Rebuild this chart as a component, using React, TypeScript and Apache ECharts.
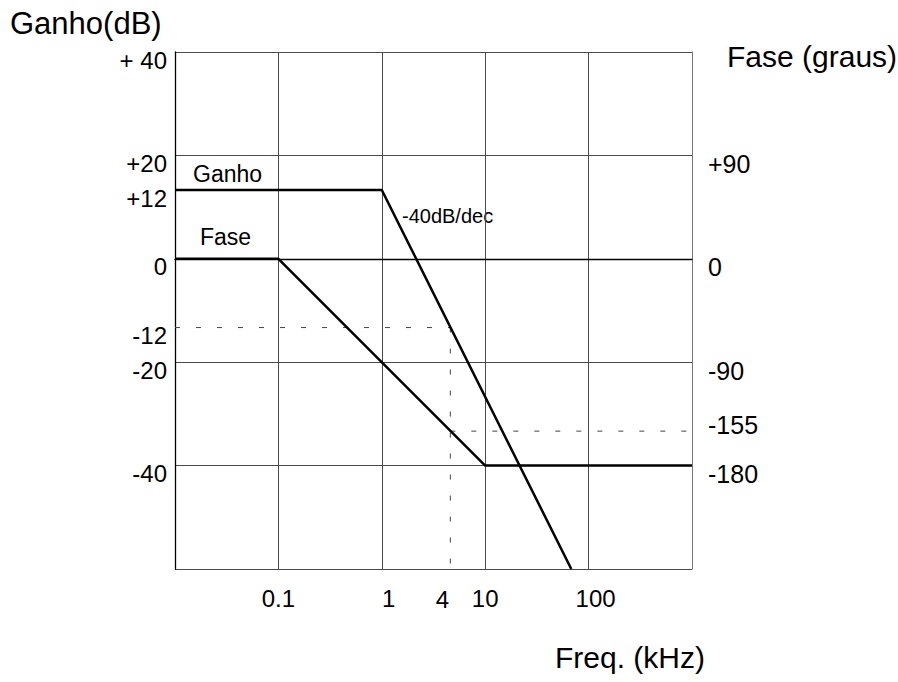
import { useEffect, useRef } from 'react';
import * as echarts from 'echarts';

// Frequency axis (kHz, log scale)
const freqTicks = [0.01, 0.1, 1, 10, 100, 1000];
const freqTickLabels = ['', '0.1', '1', '10', '100', ''];

// Gain axis (dB)
const gainTicks = [-60, -40, -20, 0, 20, 40];
const gainTickLabels = ['', '-40', '-20', '0', '+20', '+ 40'];

// Phase axis (degrees)
const phaseTicks = [-270, -180, -90, 0, 90, 180];
const phaseTickLabels = ['', '-180', '-90', '0', '+90', ''];

// Gain asymptote (as drawn)
const gainFreq = [0.01, 1, 68];
const gainDb = [13.3, 13.3, -60];

// Phase asymptote
const phaseFreq = [0.01, 0.1, 10, 1000];
const phaseDeg = [0, 0, -180, -180];

// Marker at f ≈ 4 kHz (as drawn)
const markerFreq = 4.6;
const markerGain = -13.3;
const markerPhase = -150;

// Extra tick labels
const gainExtraValues = [13.3, -13.3];
const gainExtraLabels = ['+12', '-12'];
const phaseExtraValues = [-150];
const phaseExtraLabels = ['-155'];
const freqExtraValues = [4.6];
const freqExtraLabels = ['4'];

const FONT = '"Liberation Sans", Arial, sans-serif';
const TICK_FS = 24;
const RIGHT_FS = 25;

function labelFor(values: number[], labels: string[], v: number) {
  for (let i = 0; i < values.length; i++) {
    if (Math.abs(values[i] - v) < 1e-6 * Math.max(1, Math.abs(v))) return labels[i];
  }
  return '';
}

export default function App() {
  const ref = useRef<HTMLDivElement>(null);
  useEffect(() => {
    if (!ref.current) return;
    const chart = echarts.init(ref.current, undefined, { renderer: 'svg' });
    const gridColor = '#4a4a4a';
    const dashed = { color: '#444', width: 1, type: [5, 16] as number[] };
    const curve = { color: '#000', width: 2.5 };
    const extraLabelBase = {
      show: true,
      fontFamily: FONT,
      color: '#000',
      opacity: 1,
      textBorderWidth: 0,
    };

    const option: any = {
      animation: false,
      backgroundColor: '#fff',
      textStyle: { fontFamily: FONT },
      grid: { left: 175, right: 206, top: 52, bottom: 113, containLabel: false },
      xAxis: {
        type: 'log',
        logBase: 10,
        min: 0.01,
        max: 1000,
        axisLine: { show: true, lineStyle: { color: '#000', width: 1.3 } },
        axisTick: { show: false },
        splitLine: { show: true, lineStyle: { color: gridColor, width: 1 } },
        axisLabel: {
          color: '#000',
          margin: 17,
          formatter: (v: number) => {
            const e = Math.round(Math.log10(v));
            const l = labelFor(freqTicks, freqTickLabels, Math.pow(10, e));
            if (!l) return '';
            if (l === '1' || l === '100') return '{r|' + l + '}';
            return '{n|' + l + '}';
          },
          rich: {
            n: { fontSize: TICK_FS, fontFamily: FONT, color: '#000' },
            r: { fontSize: TICK_FS, fontFamily: FONT, color: '#000', padding: [0, 0, 0, 14] },
          },
        },
      },
      yAxis: [
        {
          type: 'value',
          min: -60,
          max: 40,
          interval: 20,
          position: 'left',
          axisLine: { show: true, onZero: false, lineStyle: { color: '#000', width: 1.3 } },
          axisTick: { show: false },
          splitLine: { show: true, lineStyle: { color: gridColor, width: 1 } },
          axisLabel: {
            color: '#000',
            margin: 8,
            formatter: (v: number) => {
              const l = labelFor(gainTicks, gainTickLabels, v);
              return l ? '{a|' + l + '}' : '';
            },
            rich: { a: { fontSize: TICK_FS, fontFamily: FONT, color: '#000', padding: [16, 0, 0, 0] } },
          },
        },
        {
          type: 'value',
          min: -270,
          max: 180,
          interval: 90,
          position: 'right',
          axisLine: { show: true, onZero: false, lineStyle: { color: '#777', width: 1 } },
          axisTick: { show: false },
          splitLine: { show: false },
          axisLabel: {
            color: '#000',
            margin: 16,
            formatter: (v: number) => {
              const l = labelFor(phaseTicks, phaseTickLabels, v);
              return l ? '{a|' + l + '}' : '';
            },
            rich: { a: { fontSize: RIGHT_FS, fontFamily: FONT, color: '#000', padding: [17, 0, 0, 0] } },
          },
        },
      ],
      series: [
        {
          name: 'Ganho',
          type: 'line',
          yAxisIndex: 0,
          symbol: 'none',
          data: gainFreq.map((f, i) => [f, gainDb[i]]),
          lineStyle: curve,
          z: 5,
        },
        {
          name: 'Fase',
          type: 'line',
          yAxisIndex: 1,
          symbol: 'none',
          data: phaseFreq.map((f, i) => [f, phaseDeg[i]]),
          lineStyle: curve,
          z: 5,
        },
        {
          name: 'gain-marker-h',
          type: 'line',
          yAxisIndex: 0,
          symbol: 'none',
          data: [[freqTicks[0], markerGain], [markerFreq, markerGain]],
          lineStyle: dashed,
          z: 3,
        },
        {
          name: 'gain-marker-v',
          type: 'line',
          yAxisIndex: 0,
          symbol: 'none',
          data: [[markerFreq, markerGain], [markerFreq, gainTicks[0]]],
          lineStyle: dashed,
          z: 3,
        },
        {
          name: 'phase-marker-h',
          type: 'line',
          yAxisIndex: 1,
          symbol: 'none',
          data: [[markerFreq, markerPhase], [freqTicks[freqTicks.length - 1], markerPhase]],
          lineStyle: dashed,
          z: 3,
        },
        {
          name: 'gain-extra-labels',
          type: 'scatter',
          yAxisIndex: 0,
          symbolSize: 0,
          clip: false,
          silent: true,
          itemStyle: { opacity: 1 },
          data: gainExtraValues.map((v) => [freqTicks[0], v]),
          label: {
            ...extraLabelBase,
            position: 'left',
            distance: 8,
            offset: [0, 8],
            fontSize: TICK_FS,
            formatter: (p: any) => gainExtraLabels[p.dataIndex],
          },
        },
        {
          name: 'phase-extra-labels',
          type: 'scatter',
          yAxisIndex: 1,
          symbolSize: 0,
          clip: false,
          silent: true,
          itemStyle: { opacity: 1 },
          data: phaseExtraValues.map((v) => [freqTicks[freqTicks.length - 1], v]),
          label: {
            ...extraLabelBase,
            position: 'right',
            distance: 16,
            offset: [0, -6],
            fontSize: RIGHT_FS,
            formatter: (p: any) => phaseExtraLabels[p.dataIndex],
          },
        },
        {
          name: 'freq-extra-labels',
          type: 'scatter',
          yAxisIndex: 0,
          symbolSize: 0,
          clip: false,
          silent: true,
          itemStyle: { opacity: 1 },
          data: freqExtraValues.map((v) => [v, gainTicks[0]]),
          label: {
            ...extraLabelBase,
            position: 'bottom',
            distance: 18,
            offset: [-8, 0],
            fontSize: TICK_FS,
            formatter: (p: any) => freqExtraLabels[p.dataIndex],
          },
        },
      ],
      graphic: [
        { type: 'text', left: 10, top: 8, style: { text: 'Ganho(dB)', fontSize: 31, fontFamily: FONT, fill: '#000' } },
        { type: 'text', left: 727, top: 41, style: { text: 'Fase (graus)', fontSize: 30, fontFamily: FONT, fill: '#000' } },
        { type: 'text', left: 555, top: 642, style: { text: 'Freq. (kHz)', fontSize: 30, fontFamily: FONT, fill: '#000' } },
        { type: 'text', left: 193, top: 162, style: { text: 'Ganho', fontSize: 23, fontFamily: FONT, fill: '#000' } },
        { type: 'text', left: 200, top: 225, style: { text: 'Fase', fontSize: 23, fontFamily: FONT, fill: '#000' } },
        { type: 'text', left: 402, top: 206, style: { text: '-40dB/dec', fontSize: 20, fontFamily: FONT, fill: '#000' } },
      ],
    };
    chart.setOption(option);
    return () => chart.dispose();
  }, []);
  return (
    <div
      ref={ref}
      style={{ position: 'fixed', left: 0, top: 0, width: 898, height: 682, background: '#fff' }}
    />
  );
}
